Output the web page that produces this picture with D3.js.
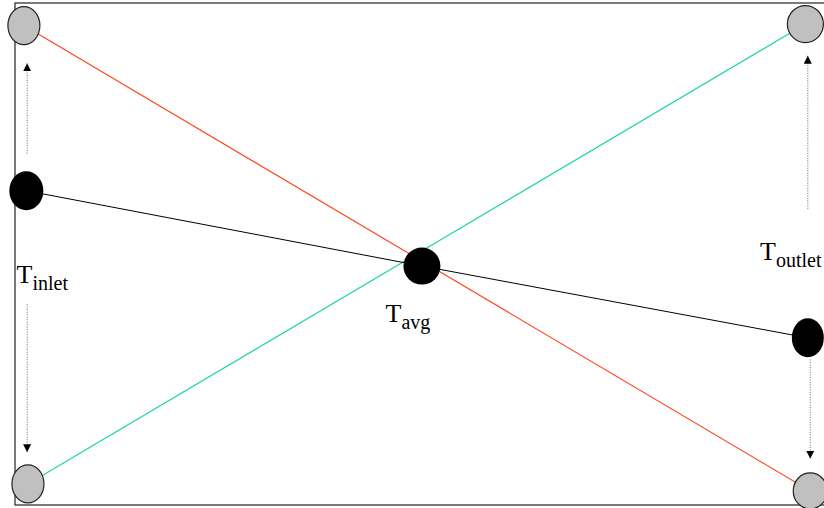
<!DOCTYPE html>
<html><head><meta charset="utf-8">
<script src="https://cdn.jsdelivr.net/npm/d3@7"></script>
<style>html,body{margin:0;padding:0;background:#fff;}svg{display:block;} text.lab{font-family:"Liberation Serif","DejaVu Serif",serif;}</style>
</head><body>
<svg id="c" width="824" height="508"></svg>
<script>
// Data (position along exchanger 0..100, temperature 0..100)
const hotLine   = [{x:1.1, y:95.5}, {x:98.3, y:2.8}];
const coldLine  = [{x:1.6, y:4.2},  {x:97.7, y:95.8}];
const avgLine   = [{x:1.4, y:62.6}, {x:50.3, y:47.6}, {x:98.0, y:33.3}];
const grayPts   = [{x:1.1, y:95.5, rx:16, ry:19}, {x:97.7, y:95.8, rx:18, ry:18.5},
                   {x:1.6, y:4.2, rx:16, ry:19},  {x:98.3, y:2.8, rx:17, ry:18}];
const blackPts  = [{x:1.4, y:62.6, rx:17, ry:19.5}, {x:50.3, y:47.6, rx:18.5, ry:18.5}, {x:98.0, y:33.3, rx:16, ry:19.5}];
const arrows    = [{x:1.5, y0:70, y1:88}, {x:1.5, y0:40, y1:10.5}, {x:98.0, y0:59, y1:89.5}, {x:98.3, y0:29, y1:9.2}];
const labels    = [{x:0.2, y:44.2, main:"T", sub:"inlet"}, {x:45.8, y:36.5, main:"T", sub:"avg"}, {x:92.1, y:48.9, main:"T", sub:"outlet"}];

const svg = d3.select("#c");
const x = d3.scaleLinear().domain([0,100]).range([15, 824]);
const y = d3.scaleLinear().domain([0,100]).range([505, 3]);

// frame (right edge lies outside the view)
svg.append("rect").attr("x", x(0)).attr("y", y(100)).attr("width", x(100)-x(0)+10).attr("height", y(0)-y(100))
  .attr("fill","none").attr("stroke","#333").attr("stroke-width",1.3);

const line = d3.line().x(d=>x(d.x)).y(d=>y(d.y));
svg.append("path").datum(hotLine).attr("d",line).attr("fill","none").attr("stroke","#ff4a22").attr("stroke-width",1.2);
svg.append("path").datum(coldLine).attr("d",line).attr("fill","none").attr("stroke","#22d4ac").attr("stroke-width",1.2);
svg.append("path").datum(avgLine).attr("d",line).attr("fill","none").attr("stroke","#000").attr("stroke-width",1);

// arrows
const defs = svg.append("defs");
defs.append("marker").attr("id","ah").attr("viewBox","0 0 10 10").attr("refX",10).attr("refY",5)
  .attr("markerWidth",8).attr("markerHeight",8).attr("markerUnits","userSpaceOnUse").attr("orient","auto")
  .append("path").attr("d","M0,0 L10,5 L0,10 Z").attr("fill","#000");
svg.selectAll("line.arr").data(arrows).join("line").attr("class","arr")
  .attr("x1",d=>x(d.x)).attr("x2",d=>x(d.x)).attr("y1",d=>y(d.y0)).attr("y2",d=>y(d.y1))
  .attr("stroke","#666").attr("stroke-width",1).attr("stroke-dasharray","1,1.5").attr("marker-end","url(#ah)");

// points
svg.selectAll("ellipse.g").data(grayPts).join("ellipse").attr("class","g")
  .attr("cx",d=>x(d.x)).attr("cy",d=>y(d.y)).attr("rx",d=>d.rx).attr("ry",d=>d.ry)
  .attr("fill","#c0c0c0").attr("stroke","#222").attr("stroke-width",1.2);
svg.selectAll("ellipse.b").data(blackPts).join("ellipse").attr("class","b")
  .attr("cx",d=>x(d.x)).attr("cy",d=>y(d.y)).attr("rx",d=>d.rx).attr("ry",d=>d.ry)
  .attr("fill","#000");

// labels
const t = svg.selectAll("text.lab").data(labels).join("text").attr("class","lab")
  .attr("x",d=>x(d.x)).attr("y",d=>y(d.y)).attr("fill","#000");
t.append("tspan").attr("font-size",26).text(d=>d.main);
t.append("tspan").attr("font-size",20).attr("dy",7).text(d=>d.sub);
</script>
</body></html>
